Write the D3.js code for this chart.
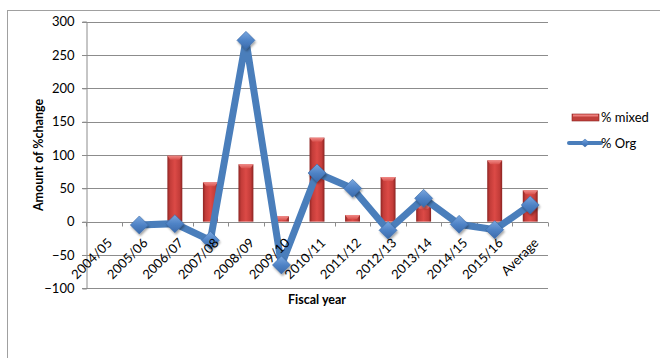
<!DOCTYPE html>
<html>
<head>
<meta charset="utf-8">
<script src="https://cdn.jsdelivr.net/npm/d3@7/dist/d3.min.js"></script>
<style>
  html, body { margin: 0; padding: 0; background: #fff; }
  svg { display: block; font-family: Lato, "Liberation Sans", Arial, sans-serif; }
</style>
</head>
<body>
<svg id="chart" width="660" height="358"></svg>
<script>
// Fiscal years plus the overall average
const categories = ["2004/05", "2005/06", "2006/07", "2007/08", "2008/09", "2009/10",
                    "2010/11", "2011/12", "2012/13", "2013/14", "2014/15", "2015/16", "Average"];
// % mixed (bars) — no value for the first two years
const mixedValues = [null, null, 99, 59, 86, 8, 126, 10, 67, 25, null, 92, 47];
// % Org (line) — no value for 2004/05
const orgValues = [null, -5, -3, -28, 272, -65, 73, 50, -13, 35, -4, -12, 25];
const yTicks = [-100, -50, 0, 50, 100, 150, 200, 250, 300];
const seriesNames = ["% mixed", "% Org"];

const svg = d3.select("#chart");
const plot = { left: 86, right: 548, top: 21.7, bottom: 288.3 };

const defs = svg.append("defs");
const barGrad = defs.append("linearGradient").attr("id", "barGrad")
  .attr("x1", "0").attr("x2", "1").attr("y1", "0").attr("y2", "0");
[["0%", "#8e2523"], ["18%", "#c33c39"], ["50%", "#dc4a46"], ["82%", "#c33c39"], ["100%", "#8a2321"]]
  .forEach(([o, c]) => barGrad.append("stop").attr("offset", o).attr("stop-color", c));
const capGrad = defs.append("linearGradient").attr("id", "capGrad")
  .attr("x1", "0").attr("x2", "0").attr("y1", "0").attr("y2", "1");
[["0%", "#f08a87"], ["100%", "#d9514d"]]
  .forEach(([o, c]) => capGrad.append("stop").attr("offset", o).attr("stop-color", c));
const diaGrad = defs.append("linearGradient").attr("id", "diaGrad")
  .attr("x1", "0").attr("x2", "0").attr("y1", "0").attr("y2", "1");
[["0%", "#7aa7df"], ["50%", "#4f83c6"], ["100%", "#3a6aab"]]
  .forEach(([o, c]) => diaGrad.append("stop").attr("offset", o).attr("stop-color", c));
const shadow = defs.append("filter").attr("id", "shadow")
  .attr("x", "-50%").attr("y", "-50%").attr("width", "200%").attr("height", "200%");
shadow.append("feDropShadow").attr("dx", 1).attr("dy", 2).attr("stdDeviation", 1.2)
  .attr("flood-color", "#000").attr("flood-opacity", 0.35);

// Chart frame
svg.append("rect").attr("x", 7.5).attr("y", 10.5).attr("width", 700).attr("height", 400)
  .attr("fill", "none").attr("stroke", "#a0a0a0").attr("stroke-width", 1);

const x = d3.scaleBand().domain(categories).range([plot.left, plot.right]).padding(0);
const y = d3.scaleLinear().domain([-100, 300]).range([plot.bottom, plot.top]);

// Horizontal gridlines
svg.append("g").selectAll("line").data(yTicks).join("line")
  .attr("x1", plot.left - 4).attr("x2", plot.right)
  .attr("y1", d => Math.round(y(d)) + 0.5).attr("y2", d => Math.round(y(d)) + 0.5)
  .attr("stroke", "#8c8c8c").attr("stroke-width", 1);

// Y axis
const yAxis = svg.append("g").attr("transform", `translate(${plot.left + 0.5},0)`)
  .call(d3.axisLeft(y).tickValues(yTicks).tickSize(4).tickPadding(8));
yAxis.select(".domain").attr("stroke", "#8c8c8c");
yAxis.selectAll(".tick line").attr("stroke", "#8c8c8c");
yAxis.selectAll("text").attr("font-size", 13).attr("fill", "#000")
  .attr("font-family", "Lato, sans-serif");

// X axis along zero line: ticks at band boundaries
const zeroY = Math.round(y(0)) + 0.5;
const boundaries = categories.map(c => x(c)).concat([plot.right]);
svg.append("g").selectAll("line").data(boundaries).join("line")
  .attr("x1", d => Math.round(d) + 0.5).attr("x2", d => Math.round(d) + 0.5)
  .attr("y1", zeroY).attr("y2", zeroY + 4)
  .attr("stroke", "#8c8c8c");

// Bars
const bw = x.bandwidth() * 0.42;
const bars = svg.append("g").selectAll("g").data(categories.map((c, i) => ({ c, v: mixedValues[i] }))
  .filter(d => d.v != null)).join("g");
bars.append("rect")
  .attr("x", d => x(d.c) + (x.bandwidth() - bw) / 2)
  .attr("y", d => y(Math.max(0, d.v)))
  .attr("width", bw)
  .attr("height", d => Math.abs(y(d.v) - y(0)))
  .attr("fill", "url(#barGrad)");
bars.append("path")
  .attr("d", d => {
    const x0 = x(d.c) + (x.bandwidth() - bw) / 2, x1 = x0 + bw, t = y(d.v);
    const h = Math.min(4, Math.abs(y(d.v) - y(0)));
    return `M${x0},${t}L${x1},${t}L${x1 - 3},${t + h}L${x0 + 3},${t + h}Z`;
  })
  .attr("fill", "url(#capGrad)");

// Org line
const orgPts = categories.map((c, i) => ({ c, v: orgValues[i] })).filter(d => d.v != null);
const line = d3.line().x(d => x(d.c) + x.bandwidth() / 2).y(d => y(d.v));
svg.append("path").datum(orgPts).attr("d", line)
  .attr("fill", "none").attr("stroke", "#4a7ebb").attr("stroke-width", 7)
  .attr("stroke-linejoin", "miter").attr("stroke-miterlimit", 3);

// Diamond markers
const ds = 9;
svg.append("g").selectAll("path").data(orgPts).join("path")
  .attr("transform", d => `translate(${x(d.c) + x.bandwidth() / 2},${y(d.v)})`)
  .attr("d", `M0,${-ds}L${ds},0L0,${ds}L${-ds},0Z`)
  .attr("fill", "url(#diaGrad)")
  .attr("stroke", "#3b6aa6").attr("stroke-width", 0.6)
  .attr("filter", "url(#shadow)");

// X tick labels, rotated
svg.append("g").selectAll("text").data(categories).join("text")
  .attr("transform", d => `translate(${x(d) + x.bandwidth() / 2 + 6},${zeroY + 18}) rotate(-45)`)
  .attr("text-anchor", "end")
  .attr("dy", "0.35em")
  .attr("font-size", 13)
  .attr("fill", "#000")
  .text(d => d);

// Axis titles
svg.append("text").attr("x", 317).attr("y", 304)
  .attr("text-anchor", "middle").attr("font-weight", "bold").attr("font-size", 12.5)
  .text("Fiscal year");
svg.append("text").attr("transform", "translate(39,155) rotate(-90)")
  .attr("text-anchor", "middle").attr("dy", "0.35em").attr("font-weight", "bold").attr("font-size", 12.5)
  .text("Amount of %change");

// Legend
const lg = svg.append("g");
lg.append("rect").attr("x", 572).attr("y", 114).attr("width", 27).attr("height", 7)
  .attr("fill", "#c0403c").attr("stroke", "#8a2321").attr("stroke-width", 0.6);
lg.append("rect").attr("x", 573).attr("y", 114.5).attr("width", 25).attr("height", 2)
  .attr("fill", "#ec7f7c");
lg.append("text").attr("x", 601).attr("y", 117.5).attr("dy", "0.35em")
  .attr("font-size", 13).text(seriesNames[0]);
lg.append("line").attr("x1", 569).attr("x2", 601).attr("y1", 143).attr("y2", 143)
  .attr("stroke", "#4a7ebb").attr("stroke-width", 4).attr("stroke-linecap", "round");
lg.append("path").attr("transform", "translate(585,143)")
  .attr("d", "M0,-4L4.5,0L0,4L-4.5,0Z").attr("fill", "url(#diaGrad)")
  .attr("stroke", "#3b6aa6").attr("stroke-width", 0.5);
lg.append("text").attr("x", 601).attr("y", 143).attr("dy", "0.35em")
  .attr("font-size", 13).text(seriesNames[1]);
</script>
</body>
</html>
